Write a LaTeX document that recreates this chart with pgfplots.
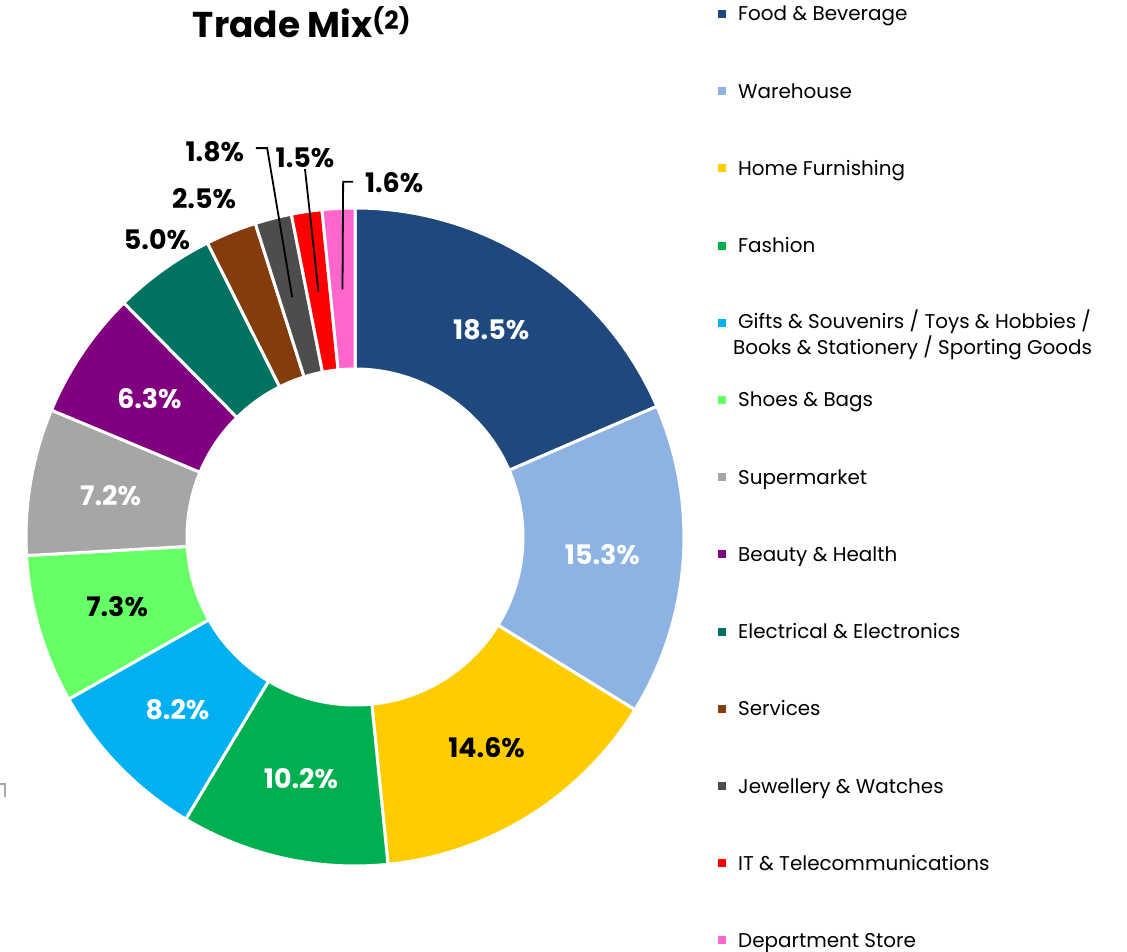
\documentclass[border=0pt]{standalone}
\usepackage{fontspec}
\setmainfont{Poppins}
\usepackage{pgfplots}
\pgfplotsset{compat=1.18}
\definecolor{cFood}{RGB}{31,73,125}
\definecolor{cWare}{RGB}{141,179,226}
\definecolor{cHome}{RGB}{255,204,0}
\definecolor{cFash}{RGB}{0,176,80}
\definecolor{cGift}{RGB}{0,176,240}
\definecolor{cShoe}{RGB}{102,255,102}
\definecolor{cSupe}{RGB}{166,166,166}
\definecolor{cBeau}{RGB}{128,0,128}
\definecolor{cElec}{RGB}{0,115,96}
\definecolor{cServ}{RGB}{132,60,12}
\definecolor{cJewe}{RGB}{77,77,77}
\definecolor{cIT}{RGB}{255,0,0}
\definecolor{cDept}{RGB}{255,102,204}
\def\nolab{none}
\begin{document}
\begin{tikzpicture}
\useasboundingbox (0bp,0bp) rectangle (1127bp,952bp);
\begin{axis}[at={(355bp,415bp)}, anchor=center,
  scale only axis, width=658bp, height=658bp,
  xmin=-1, xmax=1, ymin=-1, ymax=1,
  hide axis, clip=false]
\addplot[draw=none] coordinates {(0,0)};
\pgfplotsextra{
  \foreach \v/\c/\lc [remember=\e as \s (initially 90)] in {
      18.5/cFood/white, 15.3/cWare/white, 14.6/cHome/black,
      10.2/cFash/white, 8.2/cGift/white, 7.3/cShoe/black,
      7.2/cSupe/white, 6.3/cBeau/white, 5.0/cElec/none,
      2.5/cServ/none, 1.8/cJewe/none, 1.5/cIT/none, 1.6/cDept/none}{
    \pgfmathsetmacro\e{\s-3.6*\v}
    \pgfmathsetmacro\m{(\s+\e)/2}
    \fill[\c, draw=white, line width=3bp] ([shift={(\s:329bp)}]axis cs:0,0)
      arc[start angle=\s, end angle=\e, radius=329bp]
      -- ([shift={(\e:168bp)}]axis cs:0,0)
      arc[start angle=\e, end angle=\s, radius=168bp] -- cycle;
    \edef\tmp{\lc}
    \ifx\tmp\nolab\else
      \node[text=\lc, font=\bfseries\fontsize{27}{32}\selectfont]
        at ([shift={(\m:248bp)}]axis cs:0,0) {\v\%};
    \fi
  }
}
\node[font=\bfseries\fontsize{27}{32}\selectfont] at (axis cs:-0.602,0.903) {5.0\%};
\node[font=\bfseries\fontsize{27}{32}\selectfont] at (axis cs:-0.459,1.030) {2.5\%};
\node[font=\bfseries\fontsize{27}{32}\selectfont] at (axis cs:-0.426,1.170) {1.8\%};
\node[font=\bfseries\fontsize{27}{32}\selectfont] at (axis cs:-0.152,1.152) {1.5\%};
\node[font=\bfseries\fontsize{27}{32}\selectfont] at (axis cs:0.119,1.076) {1.6\%};
\draw[line width=1.8bp] (axis cs:-0.301,1.182) -- (axis cs:-0.267,1.182) -- (axis cs:-0.191,0.729);
\draw[line width=1.8bp] (axis cs:-0.152,1.118) -- (axis cs:-0.111,0.746);
\draw[line width=1.8bp] (axis cs:-0.006,1.080) -- (axis cs:-0.036,1.080) -- (axis cs:-0.038,0.753);
\end{axis}
\begin{scope}[x=1bp,y=1bp]
% title
\node[font=\bfseries\fontsize{36}{42}\selectfont, anchor=base] at (302,914)
  {Trade Mix\textsuperscript{(2)}};
% stray mark at left edge
\draw[black!35, line width=1.5bp] (0,952-784) -- (5,952-784) -- (5,952-797);
% legend
\foreach \c/\t [count=\i from 0] in {
    cFood/Food \& Beverage, cWare/Warehouse, cHome/Home Furnishing,
    cFash/Fashion, cGift/{}, cShoe/Shoes \& Bags, cSupe/Supermarket,
    cBeau/Beauty \& Health, cElec/Electrical \& Electronics,
    cServ/Services, cJewe/Jewellery \& Watches,
    cIT/IT \& Telecommunications, cDept/Department Store}{
  \pgfmathsetmacro\yy{952-14-77.2*\i}
  \fill[\c] (718,\yy-4) rectangle (726,\yy+4);
  \node[anchor=base west, inner sep=0pt, font=\fontsize{20}{24}\selectfont]
    at (738,\yy-7) {\t};
}
\node[anchor=north west, inner sep=0pt, font=\fontsize{20}{26}\selectfont, align=left]
  at (733,952-310) {\hspace{5bp}Gifts \& Souvenirs / Toys \& Hobbies /\\Books \& Stationery / Sporting Goods};
\end{scope}
\end{tikzpicture}
\end{document}
